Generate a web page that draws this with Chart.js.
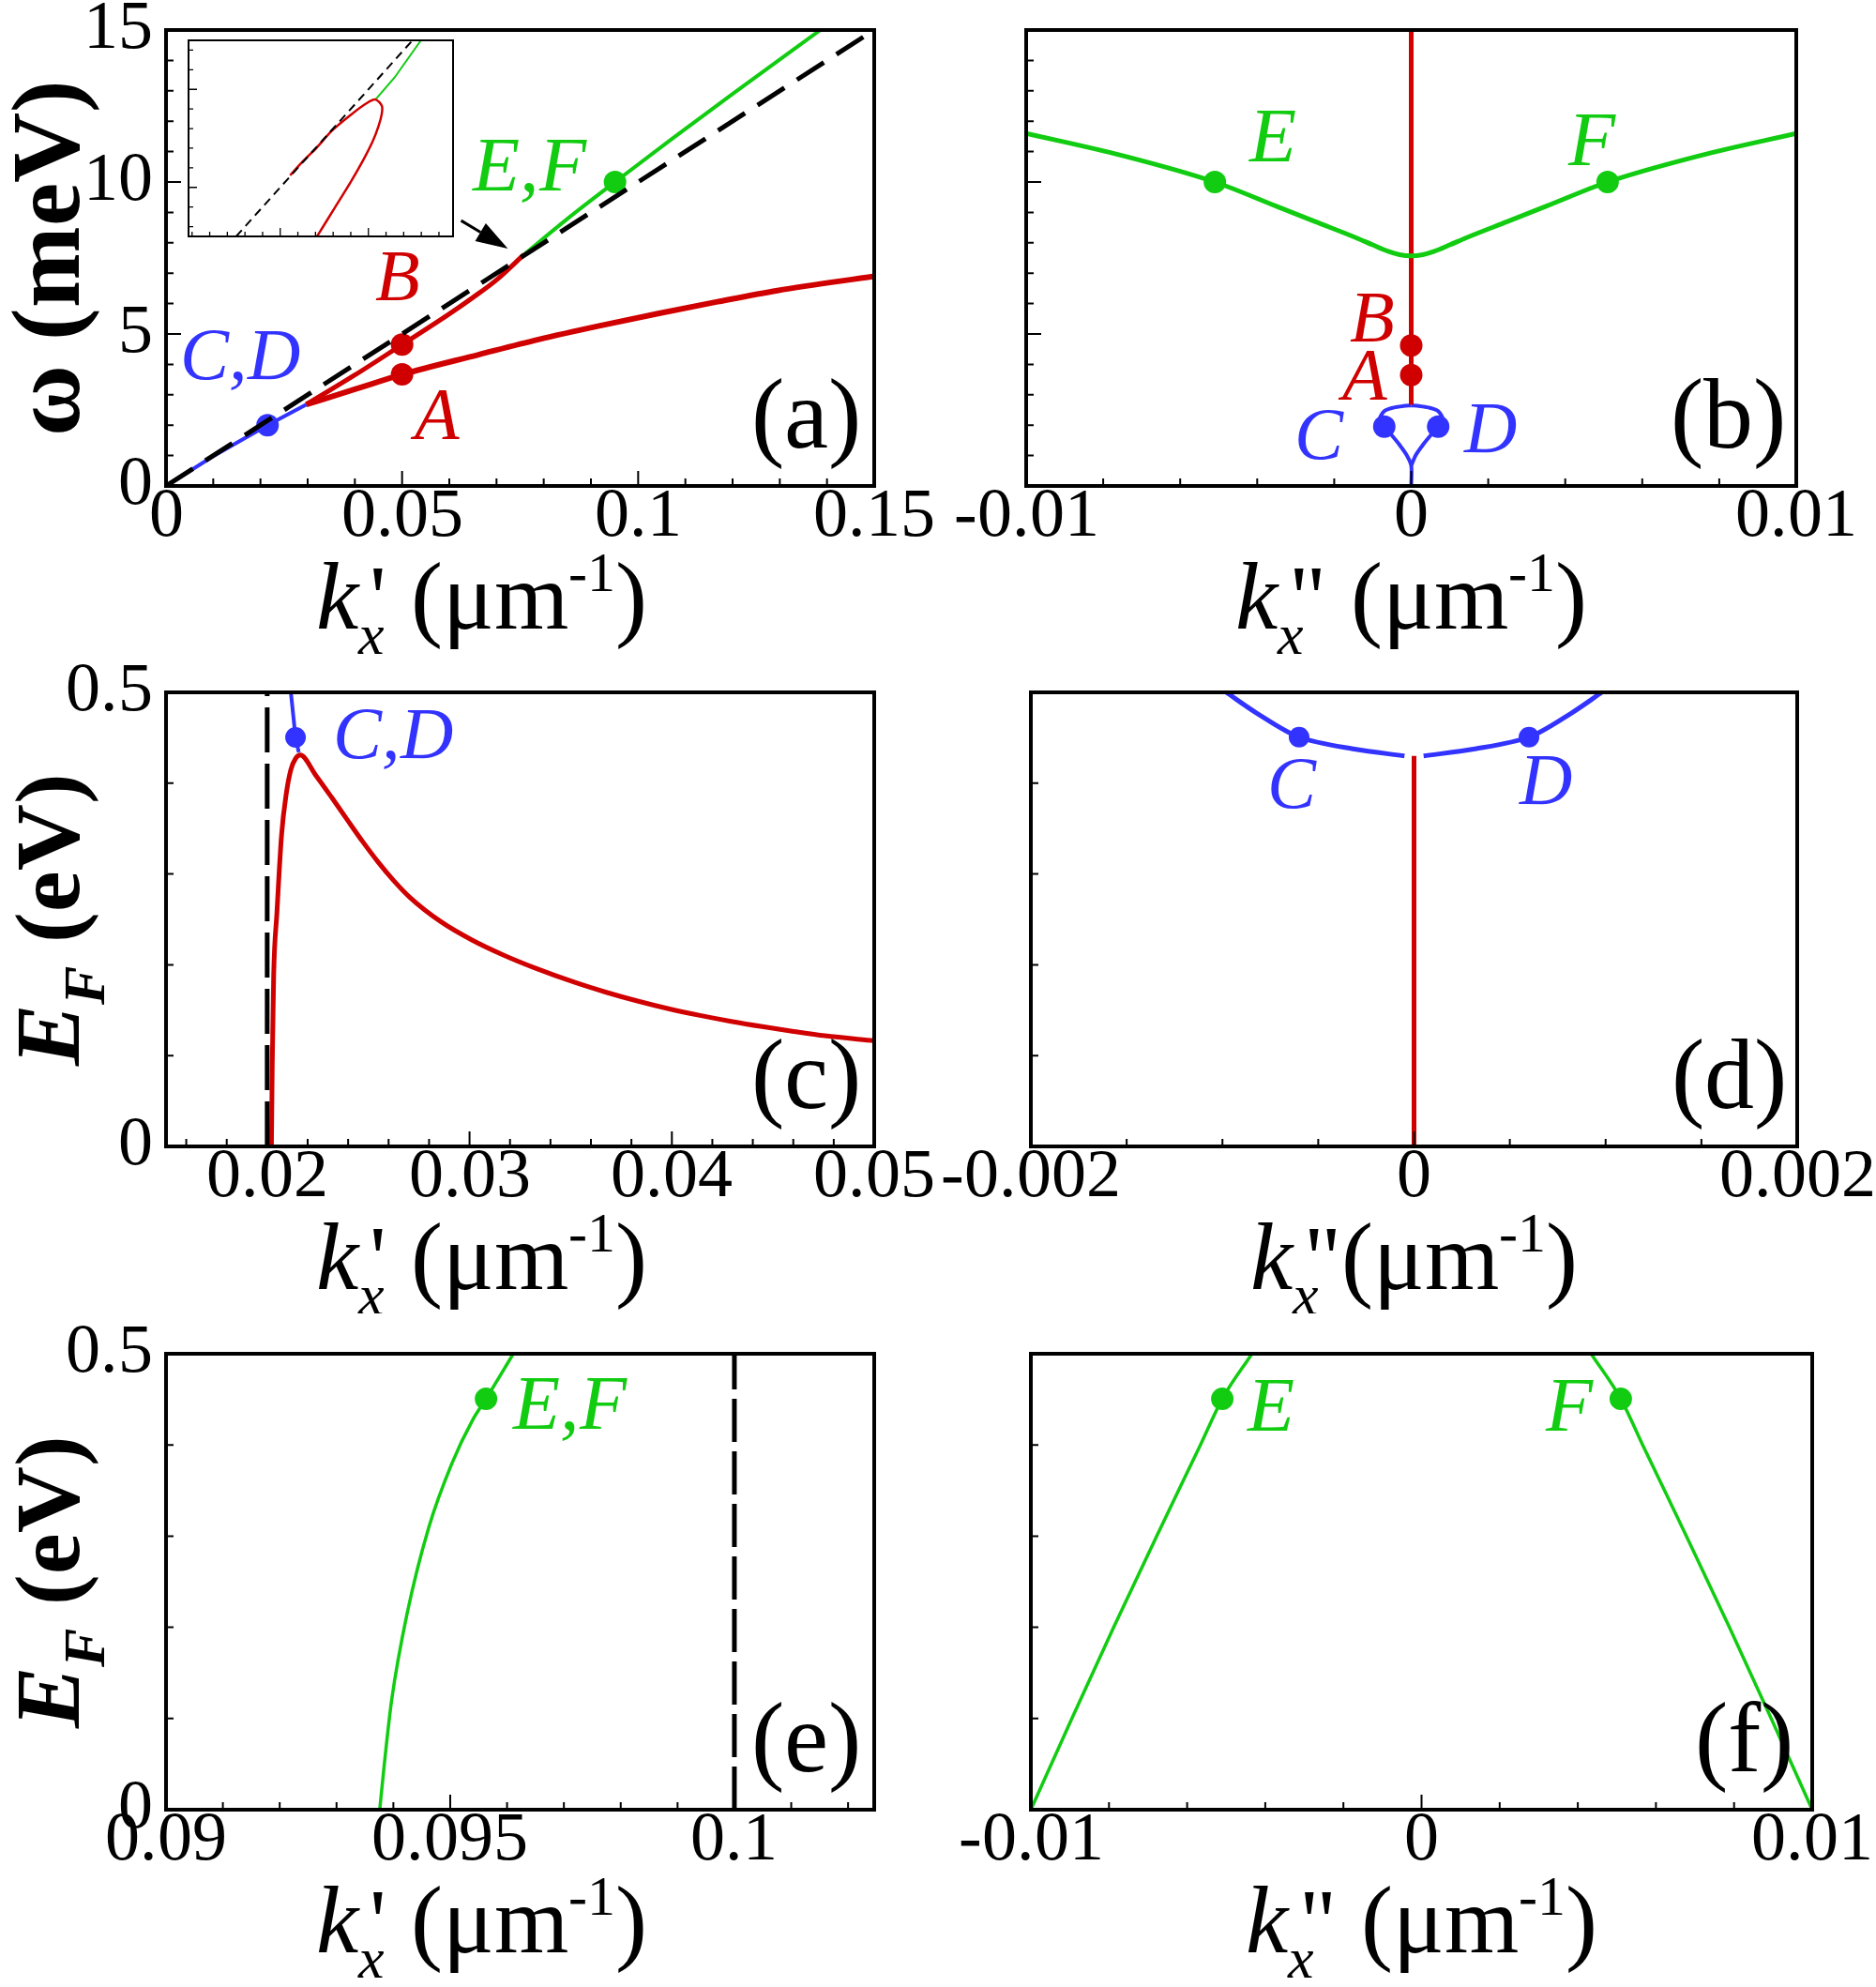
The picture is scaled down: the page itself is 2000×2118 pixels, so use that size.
<!DOCTYPE html>
<html><head><meta charset="utf-8">
<script src="https://cdn.jsdelivr.net/npm/chart.js@4.4.0/dist/chart.umd.min.js"></script>
<style>
@font-face { font-family: 'TimesLike'; font-style: normal; font-weight: 400; src: local('Liberation Serif'), local('LiberationSerif'), local('Liberation Serif Regular'), local('LiberationSerif-Regular'); }
@font-face { font-family: 'TimesLike'; font-style: normal; font-weight: 700; src: local('Liberation Serif Bold'), local('LiberationSerif-Bold'); }
@font-face { font-family: 'TimesLike'; font-style: italic; font-weight: 400; src: local('Liberation Serif Italic'), local('LiberationSerif-Italic'); }
@font-face { font-family: 'TimesLike'; font-style: italic; font-weight: 700; src: local('Liberation Serif Bold Italic'), local('LiberationSerif-BoldItalic'); }
html,body{margin:0;padding:0;background:#fff;}
#wrap{position:relative;width:2000px;height:2118px;background:#fff;overflow:hidden;}
canvas{position:absolute;}
#pre{position:absolute;left:-5000px;top:0;font-family:'TimesLike','Liberation Serif',serif;}
</style></head><body>
<div id="pre"><span>0.5</span><b>ω</b><i>k</i><b><i>E</i></b></div>
<div id="wrap">
<canvas id="ca" width="1000" height="700" style="left:0px;top:0px"></canvas>
<canvas id="cb" width="1000" height="700" style="left:1000px;top:0px"></canvas>
<canvas id="cc" width="1000" height="700" style="left:0px;top:700px"></canvas>
<canvas id="cd" width="1000" height="700" style="left:1000px;top:700px"></canvas>
<canvas id="ce" width="1000" height="718" style="left:0px;top:1400px"></canvas>
<canvas id="cf" width="1000" height="718" style="left:1000px;top:1400px"></canvas>
<canvas id="cin" width="288" height="215" style="left:197px;top:41px;z-index:5"></canvas>
</div>
<script>
// ---------------- DATA ----------------
// Panel (a): omega (meV) vs k_x' (um^-1)
const aLightK = [0, 0.15];
const aLightW = [0, 15];
const aBlueK = [0, 0.01, 0.0215, 0.0297];
const aBlueW = [0, 0.98, 2.0, 2.68];
const aRedAK = [0.0297, 0.04, 0.05, 0.0662, 0.0789, 0.0915, 0.1042, 0.1168, 0.1295, 0.15];
const aRedAW = [2.68, 3.18, 3.67, 4.32, 4.82, 5.26, 5.67, 6.06, 6.43, 6.9];
const aRedBK = [0.0297, 0.04, 0.05, 0.06, 0.065, 0.07, 0.0758];
const aRedBW = [2.68, 3.65, 4.65, 5.66, 6.2, 6.78, 7.61];
const aGreenK = [0.0758, 0.0851, 0.0951, 0.107, 0.12, 0.1386];
const aGreenW = [7.61, 8.8, 10.0, 11.4, 12.9, 15.0];
const aDotK = [0.0215, 0.05, 0.05, 0.0951];
const aDotW = [2.0, 3.67, 4.65, 10.0];
const aArrowK = [0.0625, 0.0724];
const aArrowW = [8.73, 7.81];
const aXTicks = [0, 0.05, 0.1, 0.15];
const aXLabels = ['0', '0.05', '0.1', '0.15'];
const aYTicks = [0, 5, 10, 15];
const aYLabels = ['0', '5', '10', '15'];

// Inset of (a)
const inLightK = [0.07375, 0.07875];
const inLightW = [7.375, 7.875];
const inRedK = [0.07528, 0.07567, 0.07603, 0.07647, 0.077, 0.07744, 0.0777, 0.07788, 0.07788, 0.07779, 0.07762, 0.07735, 0.077, 0.07656, 0.07607, 0.07604];
const inRedW = [7.531, 7.569, 7.601, 7.645, 7.685, 7.714, 7.724, 7.708, 7.688, 7.657, 7.617, 7.569, 7.514, 7.45, 7.379, 7.375];
const inGreenK = [0.0777, 0.07824, 0.07899];
const inGreenW = [7.724, 7.78, 7.875];

// Panel (b): omega (meV) vs k_x'' (um^-1)
const bRedK = [0, 0];
const bRedW = [2.67, 15];
const bGreenK = [-0.01, -0.0075, -0.0051, -0.0035, -0.0025, -0.0014, -0.001, -0.0006, -0.0003, 0, 0.0003, 0.0006, 0.001, 0.0014, 0.0025, 0.0035, 0.0051, 0.0075, 0.01];
const bGreenW = [11.6, 10.87, 10.0, 9.2, 8.7, 8.15, 7.93, 7.72, 7.61, 7.57, 7.61, 7.72, 7.93, 8.15, 8.7, 9.2, 10.0, 10.87, 11.6];
const bBlueCK = [0, 0, -0.00012, -0.00032, -0.00052, -0.0007, -0.00083, -0.0007, -0.00045, -0.0002, 0];
const bBlueCW = [0, 0.67, 1.02, 1.38, 1.69, 1.95, 2.15, 2.46, 2.58, 2.63, 2.65];
const bBlueDK = [0, 0.00012, 0.00032, 0.00052, 0.0007, 0.00083, 0.0007, 0.00045, 0.0002, 0];
const bBlueDW = [0.67, 1.02, 1.38, 1.69, 1.95, 2.15, 2.46, 2.58, 2.63, 2.65];
const bDotK = [0, 0, -0.0007, 0.0007, -0.0051, 0.0051];
const bDotW = [3.65, 4.62, 1.95, 1.95, 10.0, 10.0];
const bXTicks = [-0.01, 0, 0.01];
const bXLabels = ['-0.01', '0', '0.01'];

// Panel (c): E_F (eV) vs k_x'
const cRedK = [0.02021, 0.02025, 0.02032, 0.02048, 0.02071, 0.02094, 0.02117, 0.0214, 0.02163, 0.02241, 0.02318, 0.02395, 0.02472, 0.02549, 0.02626, 0.02704, 0.02858, 0.03012, 0.03167, 0.03321, 0.03521, 0.03676, 0.0383, 0.03984, 0.04139, 0.04293, 0.04447, 0.04602, 0.04756, 0.05];
const cRedE = [0, 0.09, 0.188, 0.257, 0.343, 0.388, 0.415, 0.427, 0.431, 0.4084, 0.3845, 0.3599, 0.3356, 0.3129, 0.2925, 0.2745, 0.2475, 0.2273, 0.2108, 0.1967, 0.1806, 0.1697, 0.1601, 0.1516, 0.1442, 0.1377, 0.1319, 0.1266, 0.1218, 0.1164];
const cBlueK = [0.02117, 0.0214, 0.02156];
const cBlueE = [0.5, 0.4505, 0.434];
const cLightK = [0.02, 0.02];
const cLightE = [0, 0.5];
const cDotK = [0.0214];
const cDotE = [0.4505];
const cXTicks = [0.02, 0.03, 0.04, 0.05];
const cXLabels = ['0.02', '0.03', '0.04', '0.05'];
const eYTicks = [0, 0.5];
const eYLabels = ['0', '0.5'];

// Panel (d): E_F (eV) vs k_x''
const dRedK = [0, 0];
const dRedE = [0, 0.43];
const dBlueCK = [-0.00098, -0.00082, -0.0006, -0.00031, -0.00005];
const dBlueCE = [0.5, 0.477, 0.4507, 0.4375, 0.43];
const dBlueDK = [0.00005, 0.00031, 0.0006, 0.00082, 0.00098];
const dBlueDE = [0.43, 0.4375, 0.4507, 0.477, 0.5];
const dDotK = [-0.0006, 0.0006];
const dDotE = [0.4507, 0.4507];
const dXTicks = [-0.002, 0, 0.002];
const dXLabels = ['-0.002', '0', '0.002'];

// Panel (e): E_F (eV) vs k_x'
const eGreenK = [0.09376, 0.09384, 0.09397, 0.09424, 0.09462, 0.09503, 0.09539, 0.09563, 0.09611];
const eGreenE = [0, 0.0495, 0.1203, 0.2146, 0.309, 0.3797, 0.4269, 0.4505, 0.5];
const eLightK = [0.1, 0.1];
const eLightE = [0, 0.5];
const eDotK = [0.09563];
const eDotE = [0.4505];
const eXTicks = [0.09, 0.095, 0.1];
const eXLabels = ['0.09', '0.095', '0.1'];

// Panel (f): E_F (eV) vs k_x''
const fGreenEK = [-0.01, -0.00895, -0.00788, -0.00678, -0.00566, -0.0051, -0.00434];
const fGreenEE = [0, 0.1, 0.2, 0.3, 0.4, 0.4505, 0.5];
const fGreenFK = [0.00434, 0.0051, 0.00566, 0.00678, 0.00788, 0.00895, 0.01];
const fGreenFE = [0.5, 0.4505, 0.4, 0.3, 0.2, 0.1, 0];
const fDotK = [-0.0051, 0.0051];
const fDotE = [0.4505, 0.4505];
const fXTicks = [-0.01, 0, 0.01];
const fXLabels = ['-0.01', '0', '0.01'];

// ---------------- STYLE / HELPERS ----------------
const SERIF = '"TimesLike","Liberation Serif","Times New Roman",serif';
const RED = '#d00000', BLUE = '#3333ff', GREEN = '#11cc11', BLACK = '#000000';
const fnt = (style, size) => style + ' ' + size + 'px ' + SERIF;
function pts(xs, ys) { return xs.map((x, i) => ({x: x, y: ys[i]})); }
function steps(a, b, s) { const r = []; const n = Math.round((b - a) / s); for (let i = 0; i <= n; i++) r.push(+(a + i * s).toFixed(7)); return r; }
function line(xs, ys, color, width, extra) {
  return Object.assign({type: 'scatter', data: pts(xs, ys), showLine: true, borderColor: color, backgroundColor: color,
    borderWidth: width, pointRadius: 0, pointHoverRadius: 0, fill: false, tension: 0}, extra || {});
}
const MONO = {cubicInterpolationMode: 'monotone'};
function dots(xs, ys, colors, r) {
  return {type: 'scatter', data: pts(xs, ys), showLine: false, pointRadius: r, pointHoverRadius: r,
    pointBackgroundColor: colors, pointBorderColor: colors, pointBorderWidth: 0};
}
function drawRich(ctx, segs, x, y, rot) {
  let w = 0;
  for (const s of segs) { ctx.font = s.f; s.w = ctx.measureText(s.t).width; w += s.w + (s.dx || 0); }
  ctx.save(); ctx.translate(x, y); if (rot) ctx.rotate(rot);
  ctx.textAlign = 'left'; ctx.textBaseline = 'alphabetic'; ctx.fillStyle = '#000';
  let cx = -w / 2;
  for (const s of segs) { cx += (s.dx || 0); ctx.font = s.f; ctx.fillText(s.t, cx, s.dy || 0); cx += s.w; }
  ctx.restore();
}
const kTitle = (mark, space) => [
  {t: 'k', f: fnt('italic', 102)},
  {t: 'x', f: fnt('italic', 62), dy: 27},
  {t: mark, f: fnt('normal', 98), dx: -16},
  {t: (space ? ' ' : '') + '(\u03bcm', f: fnt('normal', 102)},
  {t: '-1', f: fnt('normal', 60), dy: -40},
  {t: ')', f: fnt('normal', 102)}
];
const wTitle = [{t: '\u03c9 (meV)', f: fnt('bold', 104)}];
const eTitle = [{t: 'E', f: fnt('italic bold', 98)}, {t: 'F', f: fnt('italic bold', 62), dy: 27}, {t: ' (eV)', f: fnt('bold', 98)}];

const panelPlugin = {
  id: 'panel',
  beforeDraw(chart) { const c = chart.ctx; c.save(); c.fillStyle = '#fff'; c.fillRect(0, 0, chart.width, chart.height); c.restore(); },
  afterDatasetsDraw(chart, args, o) {
    const ctx = chart.ctx, A = chart.chartArea, X = chart.scales.x, Y = chart.scales.y;
    ctx.save();
    ctx.strokeStyle = '#000'; ctx.fillStyle = '#000'; ctx.lineWidth = o.tickWidth;
    ctx.beginPath();
    for (const v of o.xTicks) { const p = X.getPixelForValue(v); const L = o.xMajor.includes(v) ? o.major : o.minor; ctx.moveTo(p, A.bottom); ctx.lineTo(p, A.bottom - L); }
    for (const v of o.yTicks) { const p = Y.getPixelForValue(v); const L = o.yMajor.includes(v) ? o.major : o.minor; ctx.moveTo(A.left, p); ctx.lineTo(A.left + L, p); }
    ctx.stroke();
    ctx.lineWidth = o.frame; ctx.strokeRect(A.left, A.top, A.right - A.left, A.bottom - A.top);
    if (o.arrow) {
      const p0 = {x: X.getPixelForValue(o.arrow.x[0]), y: Y.getPixelForValue(o.arrow.y[0])};
      const p1 = {x: X.getPixelForValue(o.arrow.x[1]), y: Y.getPixelForValue(o.arrow.y[1])};
      const ang = Math.atan2(p1.y - p0.y, p1.x - p0.x), hl = 34, hw = 11;
      const bx = p1.x - hl * Math.cos(ang), by = p1.y - hl * Math.sin(ang);
      ctx.lineWidth = 3; ctx.beginPath(); ctx.moveTo(p0.x, p0.y); ctx.lineTo(bx, by); ctx.stroke();
      ctx.beginPath(); ctx.moveTo(p1.x, p1.y);
      ctx.lineTo(bx + hw * Math.sin(ang), by - hw * Math.cos(ang));
      ctx.lineTo(bx - hw * Math.sin(ang), by + hw * Math.cos(ang)); ctx.closePath(); ctx.fill();
    }
    ctx.textAlign = 'center'; ctx.textBaseline = 'alphabetic';
    for (const L of (o.labels || [])) {
      ctx.font = fnt('italic', L.size || 78); ctx.fillStyle = L.color;
      ctx.fillText(L.text, X.getPixelForValue(L.x), Y.getPixelForValue(L.y));
    }
    if (o.letter) { ctx.font = fnt('normal', 106); ctx.fillStyle = '#000'; ctx.fillText(o.letter, A.right - 73, A.bottom - 41); }
    if (o.xTitle) drawRich(ctx, o.xTitle, (A.left + A.right) / 2 + (o.xTitleShift || 0), A.bottom + 152, 0);
    if (o.yTitle) drawRich(ctx, o.yTitle, A.left - 93, (A.top + A.bottom) / 2, -Math.PI / 2);
    ctx.restore();
  }
};

function makeChart(id, cfg) {
  const cv = document.getElementById(id);
  const W = cv.width, H = cv.height, A = cfg.area;
  const tickFont = {family: SERIF, size: 74, lineHeight: 1};
  const xs = {type: 'linear', min: cfg.x.min, max: cfg.x.max, display: !cfg.inset,
    grid: {display: false, drawTicks: false}, border: {display: false},
    afterBuildTicks: s => { s.ticks = (cfg.x.vals || []).map(v => ({value: v})); },
    afterFit: s => { s.height = H - A.b; s.paddingLeft = 0; s.paddingRight = 0; },
    ticks: {display: !!cfg.x.vals, autoSkip: false, maxRotation: 0, minRotation: 0, padding: -3, color: '#000', font: tickFont,
      callback: (v, i) => cfg.x.labels[i]}};
  const ys = {type: 'linear', min: cfg.y.min, max: cfg.y.max, display: !cfg.inset,
    grid: {display: false, drawTicks: false}, border: {display: false},
    afterBuildTicks: s => { s.ticks = (cfg.y.vals || []).map(v => ({value: v})); },
    afterFit: s => { s.width = A.l; s.paddingTop = 0; s.paddingBottom = 0; },
    ticks: {display: !!cfg.y.vals, autoSkip: false, padding: 14, color: '#000', font: tickFont,
      callback: (v, i) => cfg.y.labels[i]}};
  const padding = cfg.inset ? {left: A.l, top: A.t, right: W - A.r, bottom: H - A.b} : {left: 0, top: A.t, right: W - A.r, bottom: 0};
  return new Chart(cv, {
    type: 'scatter',
    data: {datasets: cfg.datasets},
    options: {
      responsive: false, animation: false, devicePixelRatio: 1, events: [],
      layout: {padding: padding},
      plugins: {legend: {display: false}, tooltip: {enabled: false}, panel: cfg.panel},
      scales: {x: xs, y: ys}
    },
    plugins: [panelPlugin]
  });
}

function drawAll() {
Chart.defaults.font.family = SERIF;
const baseTicks = {tickWidth: 2, minor: 8, major: 16, frame: 4};

// (a)
makeChart('ca', {
  area: {l: 177, r: 932, t: 32, b: 518},
  x: {min: 0, max: 0.15, vals: aXTicks, labels: aXLabels},
  y: {min: 0, max: 15, vals: aYTicks, labels: aYLabels},
  datasets: [
    line(aLightK, aLightW, BLACK, 5, {borderDash: [34, 16]}),
    line(aBlueK, aBlueW, BLUE, 4),
    line(aRedAK, aRedAW, RED, 6, MONO),
    line(aRedBK, aRedBW, RED, 5, MONO),
    line(aGreenK, aGreenW, GREEN, 4, MONO),
    dots(aDotK, aDotW, [BLUE, RED, RED, GREEN], 12)
  ],
  panel: Object.assign({}, baseTicks, {
    xTicks: steps(0.01, 0.14, 0.01), xMajor: [0.05, 0.1],
    yTicks: steps(1, 14, 1), yMajor: [5, 10],
    arrow: {x: aArrowK, y: aArrowW},
    labels: [
      {text: 'C,D', x: 0.0156, y: 3.52, color: BLUE},
      {text: 'B', x: 0.049, y: 6.11, color: RED},
      {text: 'A', x: 0.0574, y: 1.54, color: RED},
      {text: 'E,F', x: 0.077, y: 9.72, color: GREEN, size: 82}
    ],
    letter: '(a)', xTitle: kTitle("'", true), xTitleShift: -41, yTitle: wTitle
  })
});

// inset
makeChart('cin', {
  inset: true,
  area: {l: 2, r: 286, t: 2, b: 213},
  x: {min: 0.0724, max: 0.0799},
  y: {min: 7.375, max: 7.875},
  datasets: [
    line(inLightK, inLightW, BLACK, 2, {borderDash: [9, 6]}),
    line(inRedK, inRedW, RED, 2.5, {tension: 0.3}),
    line(inGreenK, inGreenW, GREEN, 2)
  ],
  panel: {tickWidth: 1.3, minor: 5, major: 9, frame: 2,
    xTicks: steps(0.0725, 0.0795, 0.0005), xMajor: [0.075, 0.0775],
    yTicks: steps(7.4, 7.85, 0.05), yMajor: [7.5, 7.75]}
});

// (b)
makeChart('cb', {
  area: {l: 94, r: 915, t: 32, b: 518},
  x: {min: -0.01, max: 0.01, vals: bXTicks, labels: bXLabels},
  y: {min: 0, max: 15},
  datasets: [
    line(bGreenK, bGreenW, GREEN, 5, MONO),
    line(bRedK, bRedW, RED, 5),
    line(bBlueCK, bBlueCW, BLUE, 4, {tension: 0.3}),
    line(bBlueDK, bBlueDW, BLUE, 4, {tension: 0.3}),
    dots(bDotK, bDotW, [RED, RED, BLUE, BLUE, GREEN, GREEN], 12)
  ],
  panel: Object.assign({}, baseTicks, {
    xTicks: steps(-0.008, 0.008, 0.002), xMajor: [0],
    yTicks: steps(1, 14, 1), yMajor: [5, 10],
    labels: [
      {text: 'E', x: -0.0036, y: 10.68, color: GREEN, size: 82},
      {text: 'F', x: 0.0047, y: 10.56, color: GREEN, size: 82},
      {text: 'B', x: -0.001, y: 4.75, color: RED},
      {text: 'A', x: -0.0012, y: 2.84, color: RED},
      {text: 'C', x: -0.0024, y: 0.9, color: BLUE},
      {text: 'D', x: 0.00206, y: 1.11, color: BLUE}
    ],
    letter: '(b)', xTitle: kTitle('"', true), xTitleShift: 0
  })
});

// (c)
makeChart('cc', {
  area: {l: 177, r: 932, t: 38, b: 522},
  x: {min: 0.015, max: 0.05, vals: cXTicks, labels: cXLabels},
  y: {min: 0, max: 0.5, vals: eYTicks, labels: eYLabels},
  datasets: [
    line(cLightK, cLightE, BLACK, 5, {borderDash: [48, 12]}),
    line(cRedK, cRedE, RED, 5, MONO),
    line(cBlueK, cBlueE, BLUE, 4),
    dots(cDotK, cDotE, [BLUE], 11)
  ],
  panel: Object.assign({}, baseTicks, {
    xTicks: steps(0.016, 0.048, 0.002), xMajor: [0.02, 0.03, 0.04],
    yTicks: [0.1, 0.2, 0.3, 0.4], yMajor: [],
    labels: [{text: 'C,D', x: 0.02622, y: 0.4274, color: BLUE}],
    letter: '(c)', xTitle: kTitle("'", true), xTitleShift: -41, yTitle: eTitle
  })
});

// (d)
makeChart('cd', {
  area: {l: 99, r: 916, t: 38, b: 522},
  x: {min: -0.002, max: 0.002, vals: dXTicks, labels: dXLabels},
  y: {min: 0, max: 0.5},
  datasets: [
    line(dRedK, dRedE, RED, 5),
    line(dBlueCK, dBlueCE, BLUE, 5, {tension: 0.3}),
    line(dBlueDK, dBlueDE, BLUE, 5, {tension: 0.3}),
    dots(dDotK, dDotE, [BLUE, BLUE], 11)
  ],
  panel: Object.assign({}, baseTicks, {
    xTicks: steps(-0.0015, 0.0015, 0.0005), xMajor: [0],
    yTicks: [0.1, 0.2, 0.3, 0.4], yMajor: [],
    labels: [
      {text: 'C', x: -0.00064, y: 0.373, color: BLUE},
      {text: 'D', x: 0.00069, y: 0.377, color: BLUE}
    ],
    letter: '(d)', xTitle: kTitle('"', false), xTitleShift: 0
  })
});

// (e)
makeChart('ce', {
  area: {l: 177, r: 932, t: 43, b: 529},
  x: {min: 0.09, max: 0.10246, vals: eXTicks, labels: eXLabels},
  y: {min: 0, max: 0.5, vals: eYTicks, labels: eYLabels},
  datasets: [
    line(eLightK, eLightE, BLACK, 5, {borderDash: [46, 10]}),
    line(eGreenK, eGreenE, GREEN, 3.5, MONO),
    dots(eDotK, eDotE, [GREEN], 12)
  ],
  panel: Object.assign({}, baseTicks, {
    xTicks: steps(0.091, 0.102, 0.001), xMajor: [0.095, 0.1],
    yTicks: [0.1, 0.2, 0.3, 0.4], yMajor: [],
    labels: [{text: 'E,F', x: 0.0971, y: 0.418, color: GREEN, size: 82}],
    letter: '(e)', xTitle: kTitle("'", true), xTitleShift: -41, yTitle: eTitle
  })
});

// (f)
makeChart('cf', {
  area: {l: 99, r: 932, t: 43, b: 529},
  x: {min: -0.01, max: 0.01, vals: fXTicks, labels: fXLabels},
  y: {min: 0, max: 0.5},
  datasets: [
    line(fGreenEK, fGreenEE, GREEN, 3.5, MONO),
    line(fGreenFK, fGreenFE, GREEN, 3.5, MONO),
    dots(fDotK, fDotE, [GREEN, GREEN], 12)
  ],
  panel: Object.assign({}, baseTicks, {
    xTicks: steps(-0.008, 0.008, 0.002), xMajor: [0],
    yTicks: [0.1, 0.2, 0.3, 0.4], yMajor: [],
    labels: [
      {text: 'E', x: -0.00385, y: 0.4155, color: GREEN, size: 82},
      {text: 'F', x: 0.00378, y: 0.4155, color: GREEN, size: 82}
    ],
    letter: '(f)', xTitle: kTitle('"', true), xTitleShift: 0
  })
});
}

let drawn = false;
function go() { if (drawn) return; drawn = true; drawAll(); }
const loads = ['normal 400 74px TimesLike', 'normal 700 98px TimesLike', 'italic 400 80px TimesLike', 'italic 700 98px TimesLike']
  .map(s => document.fonts.load(s, '0.5\u03c9k\u03bcE').catch(() => null));
Promise.all(loads).then(go, go);
setTimeout(go, 1500);
</script>
</body></html>
